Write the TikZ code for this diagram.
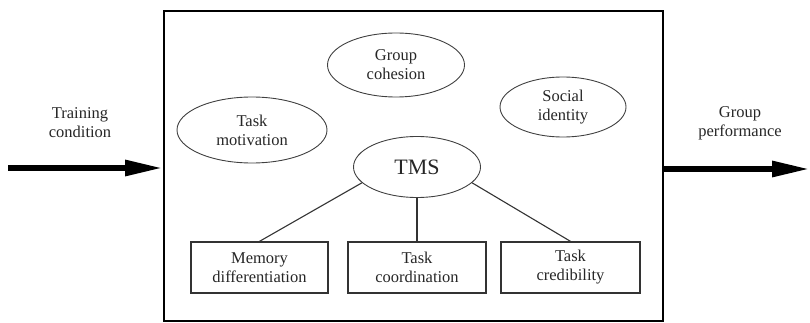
\documentclass[tikz,border=0pt]{standalone}
\usepackage{fontspec}
\setmainfont{Liberation Serif}
\usetikzlibrary{shapes.geometric,arrows.meta}
\begin{document}
\begin{tikzpicture}[x=1pt,y=-1pt,
  txt/.style={font=\fontsize{16.5}{19}\selectfont, align=center, text=black!85},
  oval/.style={ellipse, draw=black!75, line width=0.9pt, inner sep=0pt, txt},
  factor/.style={rectangle, draw=black!80, line width=1.3pt, inner sep=0pt, txt},
  link/.style={draw=black!80, line width=1.1pt},
  bigarrow/.style={line width=6pt, -{Triangle[length=38pt,width=15pt]}}]
\useasboundingbox (0,0) rectangle (810,323);
\node[draw, line width=2pt, minimum width=499pt, minimum height=310pt, inner sep=0pt] (frame) at (413.5,166) {};
\node[oval, minimum width=137pt, minimum height=64pt] (coh) at (396,65) {Group\\cohesion};
\node[oval, minimum width=126pt, minimum height=60pt] (soc) at (563,107) {Social\\identity};
\node[oval, minimum width=150pt, minimum height=66pt] (mot) at (252,130) {Task\\motivation};
\node[oval, minimum width=127pt, minimum height=61pt, font=\fontsize{22}{24}\selectfont] (tms) at (417,167) {TMS};
\node[factor, minimum width=137pt, minimum height=51pt] (mem) at (259.5,267.5) {Memory\\differentiation};
\node[factor, minimum width=138pt, minimum height=51pt] (coo) at (417,267.5) {Task\\coordination};
\node[factor, minimum width=139pt, minimum height=51pt] (cre) at (570.5,267.5) {Task\\credibility};
\draw[link] (tms.196) -- (mem.north);
\draw[link] (tms.south) -- (coo.north);
\draw[link] (tms.-16) -- (cre.north);
\node[txt] (tc) at (80,123) {Training\\condition};
\node[txt] (gp) at (740,123) {Group\\performance};
\coordinate (inStart) at (8,168);
\coordinate (outEnd) at (810,169);
\draw[bigarrow] (inStart) -- (frame.west |- inStart);
\draw[bigarrow] (frame.east |- outEnd) -- (outEnd);
\end{tikzpicture}
\end{document}
